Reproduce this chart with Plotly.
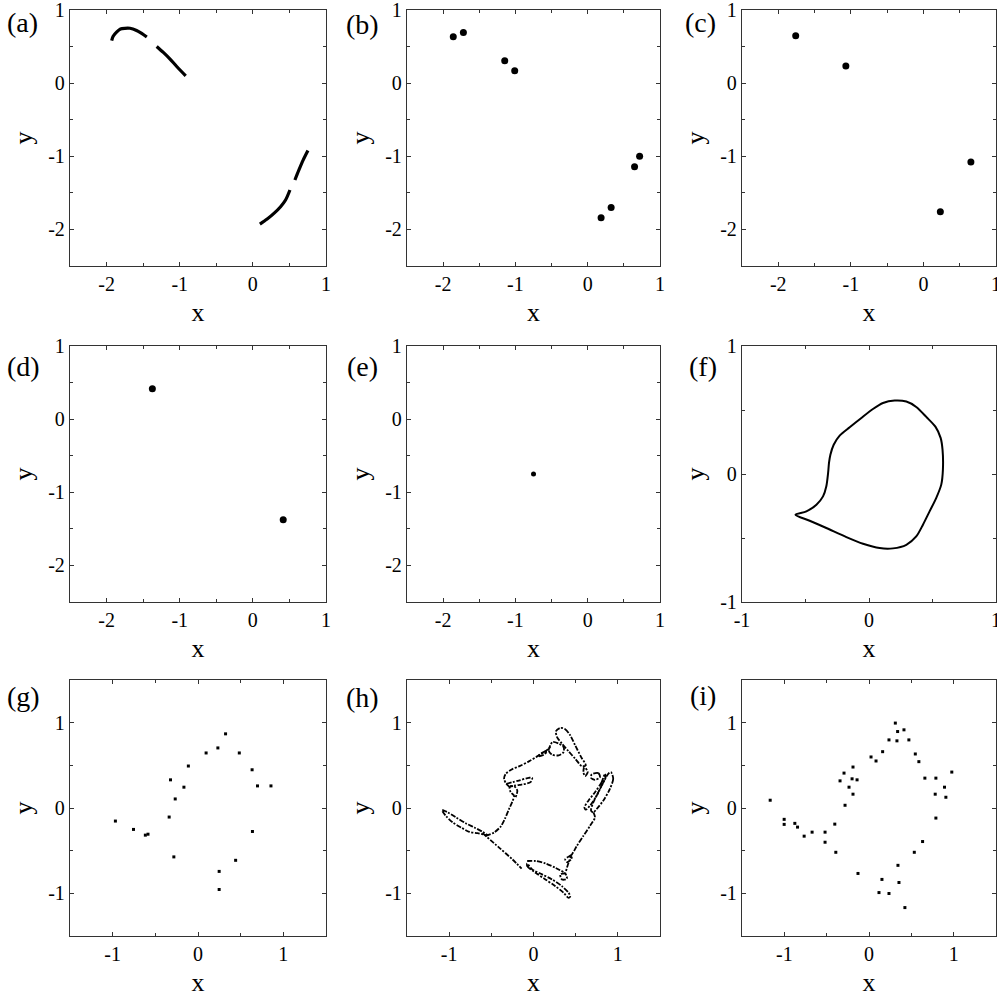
import plotly.graph_objects as go

FONT = "'Times New Roman', 'Liberation Serif', Times, serif"
W = H = 997
INK = "black"

# ---------------- panel (a): two arcs, each broken in two pieces ----------------
a_up1_x = [-1.93, -1.91, -1.86, -1.81, -1.75, -1.68, -1.59, -1.52, -1.45]
a_up1_y = [0.58, 0.64, 0.70, 0.74, 0.75, 0.75, 0.72, 0.68, 0.63]
a_up2_x = [-1.315, -1.224, -1.132, -1.041, -0.918]
a_up2_y = [0.502, 0.420, 0.329, 0.228, 0.100]
a_lo1_x = [0.096, 0.196, 0.288, 0.379, 0.447, 0.507]
a_lo1_y = [-1.927, -1.858, -1.781, -1.689, -1.598, -1.461]
a_lo2_x = [0.575, 0.630, 0.689, 0.753]
a_lo2_y = [-1.324, -1.187, -1.050, -0.922]

# ---------------- panels (b)-(e): periodic orbits ----------------
b_x = [-1.86, -1.72, -1.148, -1.01, 0.185, 0.324, 0.648, 0.718]
b_y = [0.635, 0.694, 0.306, 0.169, -1.84, -1.70, -1.142, -1.00]
c_x = [-1.76, -1.069, 0.233, 0.654]
c_y = [0.648, 0.233, -1.758, -1.078]
d_x = [-1.374, 0.415]
d_y = [0.415, -1.374]
e_x = [-0.75]
e_y = [-0.75]

# ---------------- panel (f): closed invariant curve ----------------
f_x = [-0.579, -0.493, -0.414, -0.362, -0.336, -0.322, -0.315, -0.304, -0.278,
       -0.231, -0.152, -0.060, 0.031, 0.110, 0.202, 0.294, 0.372, 0.451, 0.524,
       0.564, 0.579, 0.582, 0.569, 0.529, 0.477, 0.425, 0.372, 0.294, 0.189,
       0.084, -0.047, -0.178, -0.336, -0.467, -0.579]
f_y = [-0.318, -0.292, -0.240, -0.175, -0.096, 0.008, 0.086, 0.151, 0.229,
       0.300, 0.365, 0.438, 0.508, 0.555, 0.574, 0.566, 0.524, 0.446, 0.368,
       0.282, 0.190, 0.034, -0.083, -0.188, -0.292, -0.396, -0.488, -0.553,
       -0.581, -0.579, -0.545, -0.493, -0.422, -0.365, -0.318]

# ---------------- panel (g) ----------------
g_x = [0.323, 0.233, 0.095, 0.484, -0.113, 0.634, -0.322, -0.165, 0.697, 0.855,
       -0.267, -0.338, -0.968, -0.756, -0.617, -0.586, 0.638, -0.283, 0.441,
       0.248, 0.248]
g_y = [0.869, 0.704, 0.645, 0.645, 0.492, 0.448, 0.330, 0.244, 0.259, 0.259,
       0.106, -0.106, -0.153, -0.251, -0.318, -0.307, -0.275, -0.573, -0.613,
       -0.743, -0.955]

# ---------------- panel (h): dotted loops ----------------
h_tail_x = [-1.082, -1.016, -0.918, -0.800, -0.702, -0.604, -0.545, -0.663,
            -0.761, -0.859, -0.957, -1.035, -1.082]
h_tail_y = [-0.020, -0.051, -0.110, -0.181, -0.228, -0.279, -0.318, -0.295,
            -0.279, -0.228, -0.169, -0.098, -0.035]
h_diag_x = [-0.604, -0.408, -0.251, -0.141]
h_diag_y = [-0.295, -0.464, -0.601, -0.711]
h_rise_x = [-0.565, -0.467, -0.388, -0.337, -0.290, -0.251, -0.231, -0.271,
            -0.282, -0.231, -0.192, -0.212]
h_rise_y = [-0.326, -0.287, -0.216, -0.122, -0.012, 0.075, 0.145, 0.185,
            0.244, 0.256, 0.204, 0.126]
h_hook_x = [-0.282, -0.322, -0.349, -0.329, -0.259, -0.165, -0.055, 0.043,
            0.141, 0.200]
h_hook_y = [0.244, 0.283, 0.342, 0.401, 0.452, 0.491, 0.546, 0.605, 0.664,
            0.715]
h_tongue_x = [-0.322, -0.173, -0.055, -0.016, -0.035, -0.165, -0.282]
h_tongue_y = [0.283, 0.322, 0.354, 0.354, 0.303, 0.271, 0.256]
h_lens_x = [0.055, 0.102, 0.161, 0.122, 0.055]
h_lens_y = [0.605, 0.648, 0.664, 0.625, 0.605]
h_ring_x = [0.200, 0.180, 0.220, 0.298, 0.357, 0.357, 0.298, 0.227, 0.200]
h_ring_y = [0.735, 0.676, 0.625, 0.617, 0.656, 0.715, 0.755, 0.774, 0.735]
h_top_x = [0.318, 0.376, 0.435, 0.494, 0.565, 0.620, 0.573, 0.494, 0.416,
           0.337, 0.278, 0.267, 0.318]
h_top_y = [0.939, 0.924, 0.853, 0.735, 0.597, 0.499, 0.491, 0.578, 0.664,
           0.755, 0.833, 0.900, 0.939]
h_knot1_x = [0.604, 0.643, 0.612, 0.592, 0.604]
h_knot1_y = [0.480, 0.421, 0.373, 0.421, 0.480]
h_knot2_x = [0.690, 0.769, 0.788, 0.729, 0.682, 0.690]
h_knot2_y = [0.393, 0.409, 0.362, 0.330, 0.354, 0.393]
h_ell1_x = [0.918, 0.945, 0.906, 0.827, 0.749, 0.710, 0.682, 0.710, 0.769,
            0.839, 0.886, 0.918]
h_ell1_y = [0.421, 0.342, 0.224, 0.086, -0.012, -0.051, -0.031, 0.067, 0.185,
            0.322, 0.401, 0.421]
h_ell2_x = [0.847, 0.808, 0.729, 0.651, 0.604, 0.620, 0.671, 0.749, 0.808,
            0.855, 0.847]
h_ell2_y = [0.401, 0.303, 0.185, 0.086, 0.008, -0.020, 0.028, 0.145, 0.263,
            0.362, 0.401]
h_fall_x = [0.710, 0.729, 0.671, 0.592, 0.514, 0.455, 0.416, 0.376, 0.396,
            0.447, 0.455, 0.416, 0.396, 0.376, 0.318, 0.337, 0.396, 0.376]
h_fall_y = [-0.051, -0.110, -0.208, -0.326, -0.444, -0.542, -0.570, -0.601,
            -0.633, -0.601, -0.542, -0.641, -0.700, -0.759, -0.778, -0.837,
            -0.829, -0.759]
h_arc_x = [-0.075, 0.024, 0.141, 0.259, 0.357]
h_arc_y = [-0.621, -0.621, -0.649, -0.700, -0.751]
h_bowl_x = [-0.075, -0.075, 0.024, 0.141, 0.259, 0.357, 0.416, 0.435, 0.416,
            0.337, 0.220, 0.102, -0.016, -0.075]
h_bowl_y = [-0.650, -0.680, -0.759, -0.837, -0.916, -0.994, -1.053, -1.035,
            -0.994, -0.916, -0.837, -0.778, -0.719, -0.650]

# ---------------- panel (i) ----------------
i_x = [0.311, 0.338, 0.413, 0.236, 0.330, 0.471, 0.161, 0.024, 0.083, 0.547,
       0.589, -0.189, -0.295, 0.978, -0.342, -0.200, -0.141, 0.660, 0.790,
       -0.236, 0.892, -0.189, 0.782, 0.908, -0.283, -1.167, 0.790, -1.002,
       -1.002, -0.876, -0.844, -0.404, -0.672, -0.766, -0.519, -0.519, -0.392,
       0.633, 0.535, 0.342, -0.130, 0.153, 0.354, 0.118, 0.236, 0.424]
i_y = [0.995, 0.896, 0.916, 0.798, 0.787, 0.798, 0.660, 0.598, 0.551, 0.633,
       0.543, 0.480, 0.409, 0.421, 0.318, 0.342, 0.330, 0.350, 0.350, 0.244,
       0.244, 0.162, 0.162, 0.126, 0.032, 0.091, -0.118, -0.133, -0.192,
       -0.180, -0.224, -0.189, -0.283, -0.330, -0.283, -0.401, -0.519, -0.393,
       -0.519, -0.672, -0.767, -0.837, -0.873, -0.991, -1.002, -1.167]

# ---------------- axes / layout ----------------
WIDE_RANGE = [-2.5, 1]
WIDE_TICKS = [-2, -1, 0, 1]
WIDE_LABELS = ["-2", "-1", "0", "1"]
WIDE_MINOR = [-1.5, -0.5, 0.5]
UNIT_RANGE = [-1, 1]
UNIT_TICKS = [-1, 0, 1]
UNIT_LABELS = ["-1", "0", "1"]
UNIT_MINOR = [-0.5, 0.5]
MID_RANGE = [-1.5, 1.5]
MID_TICKS = [-1, 0, 1]
MID_LABELS = ["-1", "0", "1"]
MID_MINOR = [-0.5, 0.5]

col_dom = [(70, 326), (407, 660), (742, 996)]
row_dom = [(10, 266), (346, 602), (680, 936)]
panel_names = ["(a)", "(b)", "(c)", "(d)", "(e)", "(f)", "(g)", "(h)", "(i)"]
panel_axes = ["wide"] * 5 + ["unit", "mid", "mid", "mid"]
label_pos = [(22, 23), (362, 24), (700, 22), (23, 367), (362, 366), (703, 366),
             (23, 696), (362, 697), (703, 695)]

scales = {
    "wide": (WIDE_RANGE, WIDE_TICKS, WIDE_LABELS, WIDE_MINOR),
    "unit": (UNIT_RANGE, UNIT_TICKS, UNIT_LABELS, UNIT_MINOR),
    "mid": (MID_RANGE, MID_TICKS, MID_LABELS, MID_MINOR),
}


def axis(kind, dom, title, anchor, standoff):
    rng, vals, texts, minor = scales[kind]
    return dict(
        domain=dom, range=rng, anchor=anchor, autorange=False,
        tickmode="array", tickvals=vals, ticktext=texts,
        ticks="inside", ticklen=4, tickwidth=1.2, tickcolor="#333",
        minor=dict(tickmode="array", tickvals=minor, ticks="inside",
                   ticklen=3, tickwidth=1.2, tickcolor="#333"),
        showline=True, linecolor="#333", linewidth=1.4, mirror="ticks",
        showgrid=False, zeroline=False, automargin=False,
        ticklabeloverflow="allow",
        tickfont=dict(family=FONT, size=20, color=INK),
        title=dict(text=title, font=dict(family=FONT, size=26, color=INK),
                   standoff=standoff),
    )


fig = go.Figure()
layout = dict(
    width=W, height=H, margin=dict(l=0, r=0, t=0, b=0),
    paper_bgcolor="white", plot_bgcolor="white", showlegend=False,
    annotations=[],
)

for k in range(9):
    r, c = divmod(k, 3)
    sfx = "" if k == 0 else str(k + 1)
    x0, x1 = col_dom[c]
    y0, y1 = row_dom[r]
    xd = [x0 / W, x1 / W]
    yd = [1 - y1 / H, 1 - y0 / H]
    layout["xaxis" + sfx] = axis(panel_axes[k], xd, "x", "y" + sfx, 8)
    layout["yaxis" + sfx] = axis(panel_axes[k], yd, "y", "x" + sfx, 8)
    lx, ly = label_pos[k]
    layout["annotations"].append(dict(
        text=panel_names[k], x=lx / W, y=1 - ly / H, xref="paper", yref="paper",
        showarrow=False, xanchor="center", yanchor="middle",
        font=dict(family=FONT, size=28, color=INK)))


def ax(k):
    sfx = "" if k == 0 else str(k + 1)
    return dict(xaxis="x" + sfx, yaxis="y" + sfx)


def curve(k, xs, ys, width=3.0, dash="solid", shape="spline"):
    fig.add_trace(go.Scatter(x=xs, y=ys, mode="lines", hoverinfo="skip",
                             line=dict(color=INK, width=width, dash=dash,
                                       shape=shape, smoothing=0.8), **ax(k)))


def dots(k, xs, ys, size, symbol="circle"):
    fig.add_trace(go.Scatter(x=xs, y=ys, mode="markers", hoverinfo="skip",
                             marker=dict(color=INK, size=size, symbol=symbol,
                                         line=dict(width=0)), **ax(k)))


# (a)
for xs, ys in [(a_up1_x, a_up1_y), (a_up2_x, a_up2_y),
               (a_lo1_x, a_lo1_y), (a_lo2_x, a_lo2_y)]:
    curve(0, xs, ys, width=3.2)
# (b)-(e)
dots(1, b_x, b_y, 7)
dots(2, c_x, c_y, 7)
dots(3, d_x, d_y, 7)
dots(4, e_x, e_y, 5)
# (f)
curve(5, f_x, f_y, width=2.0)
# (g)
dots(6, g_x, g_y, 3, "square")
# (h)
h_paths = [(h_tail_x, h_tail_y), (h_diag_x, h_diag_y), (h_rise_x, h_rise_y),
           (h_hook_x, h_hook_y), (h_tongue_x, h_tongue_y), (h_lens_x, h_lens_y),
           (h_ring_x, h_ring_y), (h_top_x, h_top_y), (h_knot1_x, h_knot1_y),
           (h_knot2_x, h_knot2_y), (h_ell1_x, h_ell1_y), (h_ell2_x, h_ell2_y),
           (h_fall_x, h_fall_y), (h_arc_x, h_arc_y), (h_bowl_x, h_bowl_y)]
for xs, ys in h_paths:
    curve(7, xs, ys, width=1.8, dash="5px,1.5px,2px,1.5px")
# (i)
dots(8, i_x, i_y, 3, "square")

fig.update_layout(**layout)
fig.write_html("out.html")
